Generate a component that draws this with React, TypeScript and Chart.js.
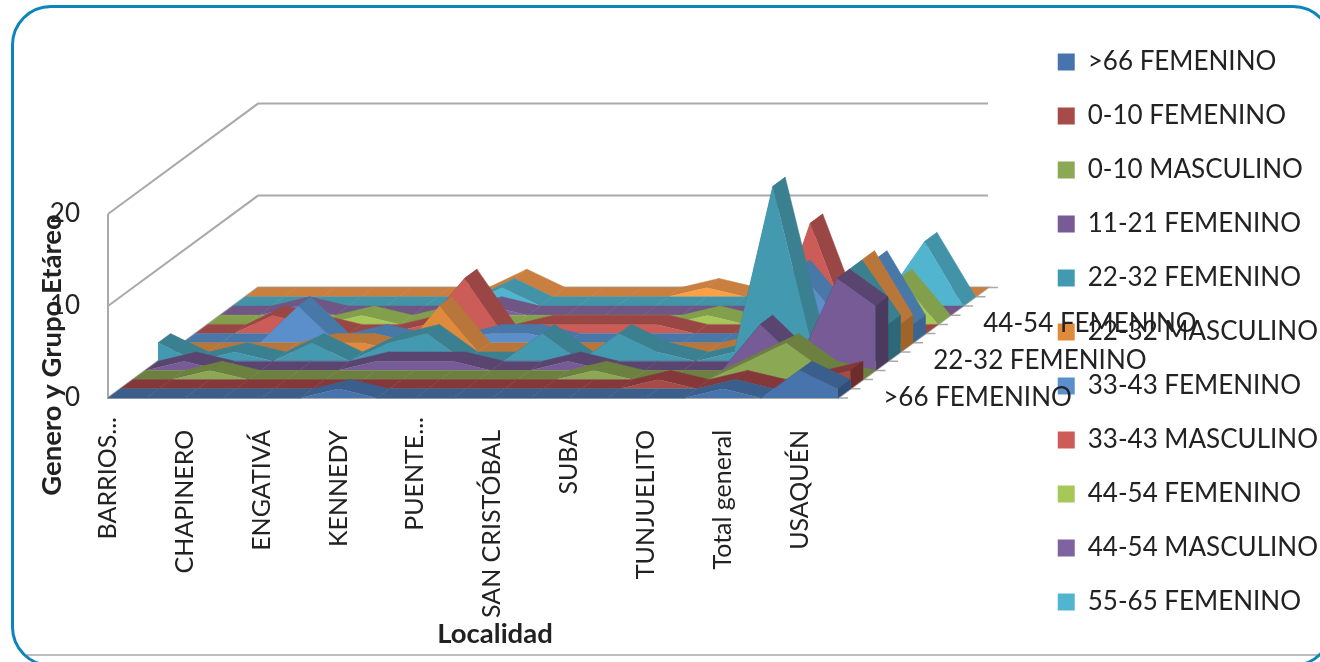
import React, { useEffect, useRef } from "react";
import { Chart, registerables } from "chart.js";

// ---------- data ----------
const tickLabels = ["BARRIOS...", "", "CHAPINERO", "", "ENGATIVÁ", "", "KENNEDY", "", "PUENTE...", "", "SAN CRISTÓBAL", "", "SUBA", "", "TUNJUELITO", "", "Total general", "", "USAQUÉN", ""];
const seriesNames = [">66 FEMENINO", "0-10 FEMENINO", "0-10 MASCULINO", "11-21 FEMENINO", "22-32 FEMENINO", "22-32 MASCULINO", "33-43 FEMENINO", "33-43 MASCULINO", "44-54 FEMENINO", "44-54 MASCULINO", "55-65 FEMENINO", "55-65 MASCULINO"];
const v00 = [0, 0, 0, 0, 0, 0, 1, 0, 0, 0, 0, 0, 0, 0, 0, 0, 1, 0, 3, 1];
const v01 = [0, 0, 0, 0, 0, 0, 0, 0, 0, 0, 0, 0, 0, 0, 1, 0, 1, 0, 1, 2];
const v02 = [0, 0, 1, 0, 0, 0, 0, 0, 0, 0, 0, 0, 1, 0, 0, 0, 2, 4, 1, 0];
const v03 = [0, 1, 0, 0, 0, 0, 1, 1, 1, 0, 0, 1, 0, 0, 0, 0, 5, 1, 10, 7];
const v04 = [2, 0, 1, 0, 2, 0, 2, 3, 0, 0, 3, 0, 3, 1, 0, 1, 19, 2, 10, 4];
const v05 = [0, 0, 0, 0, 1, 1, 0, 5, 0, 0, 0, 0, 0, 0, 0, 1, 0, 3, 10, 3];
const v06 = [0, 0, 0, 4, 0, 1, 0, 0, 1, 1, 0, 0, 0, 0, 0, 0, 8, 3, 9, 2];
const v07 = [0, 0, 2, 1, 0, 0, 1, 6, 0, 1, 1, 1, 1, 0, 0, 0, 12, 1, 0, 0];
const v08 = [0, 0, 0, 0, 1, 0, 1, 0, 0, 0, 0, 0, 0, 1, 0, 0, 0, 2, 5, 0];
const v09 = [0, 0, 1, 0, 0, 0, 0, 1, 0, 0, 0, 0, 0, 0, 0, 0, 0, 0, 0, 0];
const v10 = [0, 0, 0, 0, 0, 0, 0, 2, 0, 0, 0, 0, 0, 0, 0, 0, 0, 1, 7, 0];
const v11 = [0, 0, 0, 0, 0, 0, 0, 2, 0, 0, 0, 0, 1, 0, 0, 0, 0, 0, 0, 0];
const seriesValues = [v00, v01, v02, v03, v04, v05, v06, v07, v08, v09, v10, v11];
const valueTicks = [0, 10, 20];
const depthTickRows = [0, 4, 8];
const yTitle = "Genero y Grupo Etáreo";
const xTitle = "Localidad";

// ---------- styles ----------
const frontColors = ["#4774AC", "#A74B48", "#8BA854", "#775B96", "#4299B0", "#E08B3C", "#5B8FCB", "#CC5C58", "#A5C858", "#7F62A0", "#52B5D0", "#FBA046"];
const topColors = ["#3A5F8C", "#84383A", "#6C8040", "#5A4570", "#3B8090", "#B8763A", "#4878A8", "#9A4645", "#82A04B", "#6F5684", "#4393A8", "#C97F3F"];
const sideColors = ["#2F4F78", "#6E2C2C", "#5A6C34", "#4C3A5E", "#2C6878", "#A06428", "#3C6490", "#7E3838", "#6C8840", "#5C4670", "#38808F", "#B06C30"];
const FONT = "Lato, 'Noto Sans', sans-serif";
const INK = "#222222";
const GRID = "#A9A9A9";
const LEFT = 108;
const FLOOR = 398;
const PAD_TOP = 21;
const CAT_PX = 38.42;
const VAL_PX = 9.2;
const DEPTH_X = 0.3254; // category units per depth row
const DEPTH_Y = 1; // value units per depth row
const ROWS = seriesNames.length;
const CATS = tickLabels.length;
const TOP_VALUE = 20;

function quad(ctx: any, pts: number[][], color: string) {
  ctx.beginPath();
  pts.forEach((p, i) => (i ? ctx.lineTo(p[0], p[1]) : ctx.moveTo(p[0], p[1])));
  ctx.closePath();
  ctx.fillStyle = color;
  ctx.strokeStyle = color;
  ctx.lineWidth = 0.5;
  ctx.fill();
  ctx.stroke();
}

// Draws the 3D oblique parts (upper faces, end faces, walls, depth axis) through the chart's scales.
const ribbonPlugin = {
  id: "ribbon3d",
  beforeDatasetsDraw(chart: any) {
    const { ctx, scales } = chart;
    const px = (u: number) => scales.x.getPixelForValue(u);
    const py = (u: number) => scales.y.getPixelForValue(u);
    const bx = ROWS * DEPTH_X;
    const by = ROWS * DEPTH_Y;
    ctx.save();
    ctx.strokeStyle = GRID;
    ctx.lineWidth = 2;
    ctx.beginPath();
    [10, 20].forEach((t) => {
      ctx.moveTo(px(0), py(t));
      ctx.lineTo(px(bx), py(t + by));
      ctx.lineTo(px(CATS - 1 + bx), py(t + by));
    });
    ctx.moveTo(px(0), py(TOP_VALUE));
    ctx.lineTo(px(0), py(0));
    ctx.lineTo(px(CATS - 1), py(0));
    ctx.lineTo(px(CATS - 1 + bx), py(by));
    ctx.lineTo(px(bx), py(by));
    ctx.lineTo(px(0), py(0));
    ctx.stroke();
    ctx.lineWidth = 1.5;
    ctx.beginPath();
    for (let r = 0; r <= ROWS; r++) {
      ctx.moveTo(px(CATS - 1 + r * DEPTH_X), py(r * DEPTH_Y));
      ctx.lineTo(px(CATS - 1 + r * DEPTH_X) + 10, py(r * DEPTH_Y));
    }
    ctx.stroke();
    ctx.restore();
  },
  beforeDatasetDraw(chart: any, args: any) {
    const { ctx, scales } = chart;
    const r = args.index;
    const data = chart.data.datasets[r].data;
    const pt = (x: number, y: number) => [scales.x.getPixelForValue(x), scales.y.getPixelForValue(y)];
    const base = r * DEPTH_Y;
    ctx.save();
    for (let c = 0; c < data.length - 1; c++) {
      const a = data[c];
      const b = data[c + 1];
      quad(ctx, [pt(a.x, a.y), pt(b.x, b.y), pt(b.x + DEPTH_X, b.y + DEPTH_Y), pt(a.x + DEPTH_X, a.y + DEPTH_Y)], topColors[r]);
    }
    const e = data[data.length - 1];
    if (e.y > base) {
      quad(ctx, [pt(e.x, e.y), pt(e.x + DEPTH_X, e.y + DEPTH_Y), pt(e.x + DEPTH_X, base + DEPTH_Y), pt(e.x, base)], sideColors[r]);
    }
    ctx.restore();
  },
  afterDraw(chart: any) {
    const { ctx, scales } = chart;
    ctx.save();
    ctx.fillStyle = INK;
    ctx.textBaseline = "middle";
    ctx.textAlign = "left";
    ctx.font = `26px ${FONT}`;
    depthTickRows.forEach((r) => {
      const x = scales.x.getPixelForValue(CATS - 1 + (r + 0.5) * DEPTH_X);
      const y = scales.y.getPixelForValue((r + 0.5) * DEPTH_Y);
      ctx.fillText(seriesNames[r], x + 39, y + 4);
    });
    ctx.font = `bold 27.5px ${FONT}`;
    ctx.textAlign = "center";
    ctx.fillText(xTitle, 495, 634);
    ctx.translate(52, 355);
    ctx.rotate(-Math.PI / 2);
    ctx.fillText(yTitle, 0, 0);
    ctx.restore();
  },
};

Chart.register(ribbonPlugin as any, ...registerables);

export default function App() {
  const ref = useRef<HTMLCanvasElement>(null);
  useEffect(() => {
    const chart = new Chart(ref.current as HTMLCanvasElement, {
      type: "scatter",
      data: {
        datasets: seriesNames.map((name, r) => ({
          label: name,
          data: seriesValues[r].map((v, c) => ({ x: c + r * DEPTH_X, y: v + r * DEPTH_Y })),
          showLine: true,
          tension: 0,
          pointRadius: 0,
          borderWidth: 0,
          borderColor: frontColors[r],
          backgroundColor: frontColors[r],
          fill: { value: r * DEPTH_Y },
        })),
      },
      options: {
        responsive: false,
        animation: false,
        layout: { padding: { top: PAD_TOP, right: -8, left: 0, bottom: 0 } },
        plugins: {
          tooltip: { enabled: false },
          legend: {
            display: true,
            position: "right",
            align: "start",
            labels: {
              boxWidth: 17,
              boxHeight: 17,
              padding: 28,
              color: INK,
              font: { family: FONT, size: 26 },
              filter: (item: any) => item.datasetIndex < 11,
            },
          },
        },
        scales: {
          x: {
            type: "linear",
            min: 0,
            max: 24,
            border: { display: false },
            grid: { display: false },
            afterFit: (s: any) => { s.height = 662 - FLOOR; },
            afterBuildTicks: (s: any) => {
              s.max = (s.right - s.left) / CAT_PX;
              s.ticks = tickLabels.map((_, c) => ({ value: c }));
            },
            ticks: {
              autoSkip: false,
              minRotation: 90,
              maxRotation: 90,
              padding: 11,
              color: INK,
              font: { family: FONT, size: 25 },
              callback: (v: any) => {
                const t = tickLabels[v] || "";
                return t && !t.endsWith("...") ? t + "  " : t;
              },
            },
          },
          y: {
            type: "linear",
            min: 0,
            max: 40,
            border: { display: false },
            grid: { display: false, drawTicks: false },
            afterFit: (s: any) => { s.width = LEFT; },
            afterBuildTicks: (s: any) => {
              s.max = (s.bottom - s.top) / VAL_PX;
              s.ticks = valueTicks.map((value) => ({ value }));
            },
            ticks: { padding: 28, color: INK, font: { family: FONT, size: 26 } },
          },
        },
      },
    } as any);
    return () => chart.destroy();
  }, []);
  return (
    <div style={{ position: "fixed", left: 0, top: 0, width: 1320, height: 662, background: "#fff", overflow: "hidden" }}>
      <canvas ref={ref} width={1320} height={662} style={{ position: "absolute", left: 0, top: 0, filter: "blur(0.5px)" }} />
      <div style={{ position: "absolute", left: 27, top: 654, width: 1291, height: 2, background: "#BDBDBD", pointerEvents: "none" }} />
      <div style={{ position: "absolute", left: 11, top: 5, width: 1322, height: 662, boxSizing: "border-box", border: "3px solid #0B85BC", borderRadius: 40, pointerEvents: "none" }} />
    </div>
  );
}
